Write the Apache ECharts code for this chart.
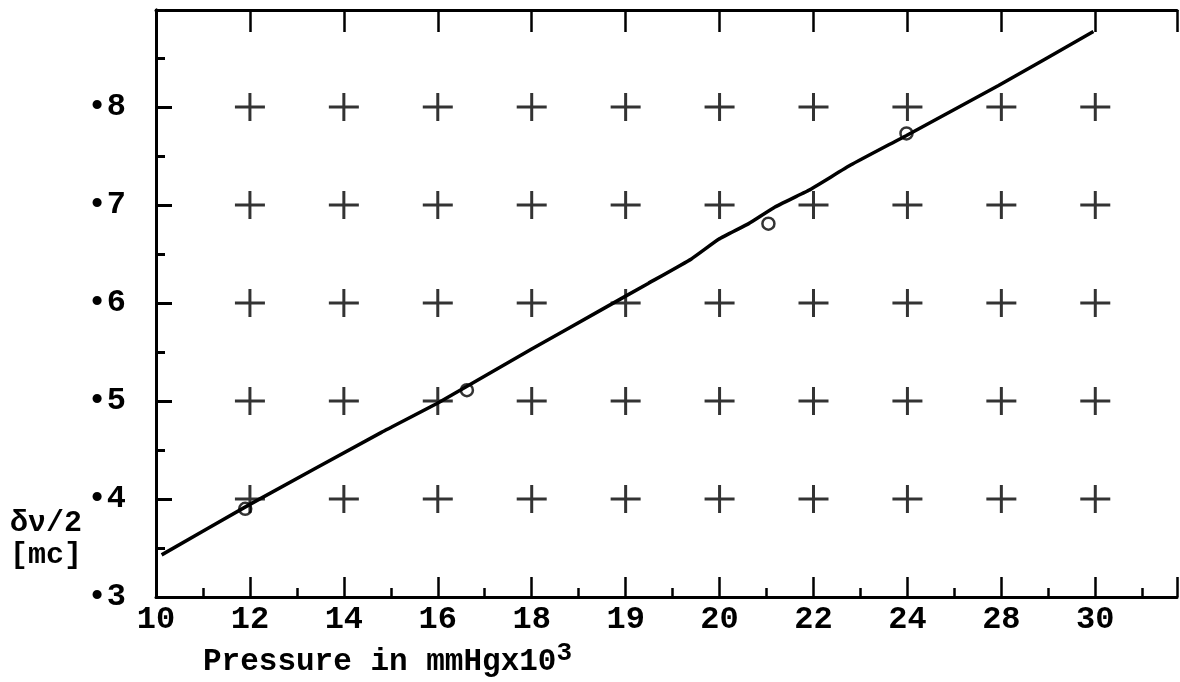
<!DOCTYPE html>
<html>
<head>
<meta charset="utf-8">
<script src="https://cdn.jsdelivr.net/npm/echarts@6/dist/echarts.min.js"></script>
<style>
html,body{margin:0;padding:0;background:#fff;}
#chart{width:1180px;height:682px;}
</style>
</head>
<body>
<div id="chart"></div>
<script>
// Category labels along x (hand-drawn, evenly spaced)
const xLabels = ['10','12','14','16','18','19','20','22','24','28','30'];
// y tick values
const yTicks = [0.3, 0.4, 0.5, 0.6, 0.7, 0.8];
// grid cross positions
const crossX = [1,2,3,4,5,6,7,8,9,10];
const crossY = [0.4,0.5,0.6,0.7,0.8];
// measured points (x as position index along the axis)
const pointX = [0.95, 3.31, 6.52, 7.99];
const pointY = [0.390, 0.511, 0.681, 0.773];
// hand-drawn curve
const curveX = [0.06, 0.99, 2.40, 3.02, 4.00, 4.74, 5.24, 5.70, 5.99, 6.31, 6.59, 6.95, 7.40, 7.99, 8.97, 9.98];
const curveY = [0.343, 0.394, 0.468, 0.499, 0.553, 0.593, 0.620, 0.645, 0.665, 0.681, 0.698, 0.715, 0.741, 0.771, 0.822, 0.877];

const FONT = '"Liberation Mono", "DejaVu Sans Mono", monospace';
const crosses = [];
crossX.forEach(x => crossY.forEach(y => crosses.push([x, y])));

const chart = echarts.init(document.getElementById('chart'));
chart.setOption({
  backgroundColor: '#fff',
  animation: false,
  grid: {left: 156, right: 2, top: 10, bottom: 85},
  xAxis: [{
    type: 'value', min: 0, max: 10.87, interval: 1,
    axisLine: {show: true, lineStyle: {color: '#000', width: 3}},
    axisTick: {show: true, inside: true, length: 20, lineStyle: {color: '#000', width: 2.5}},
    minorTick: {show: true, splitNumber: 2, length: 9, lineStyle: {color: '#000', width: 2.5}},
    splitLine: {show: false},
    axisLabel: {
      color: '#000', fontFamily: FONT, fontSize: 32, fontWeight: 'bold', margin: 7,
      formatter: v => { const i = Math.round(v); return Math.abs(v - i) < 1e-6 && xLabels[i] !== undefined ? xLabels[i] : ''; }
    }
  }, {
    type: 'value', position: 'top', min: 0, max: 10.87, interval: 1,
    axisLine: {show: true, lineStyle: {color: '#000', width: 3}},
    axisTick: {show: true, inside: true, length: 22, lineStyle: {color: '#000', width: 2.5}},
    axisLabel: {show: false},
    splitLine: {show: false}
  }],
  yAxis: [{
    type: 'value', min: 0.3, max: 0.899, interval: 0.1,
    axisLine: {show: true, lineStyle: {color: '#000', width: 3}},
    axisTick: {show: true, inside: true, length: 16, lineStyle: {color: '#000', width: 3}},
    minorTick: {show: true, splitNumber: 2, length: 9, lineStyle: {color: '#000', width: 3}},
    splitLine: {show: false},
    axisLabel: {
      color: '#000', fontFamily: FONT, fontSize: 32, fontWeight: 'bold', margin: 30,
      formatter: v => {
        const t = yTicks.find(k => Math.abs(k - v) < 1e-6);
        return t === undefined ? '' : '\u2022' + String(Math.round(t * 10));
      }
    }
  }, {
    type: 'value', position: 'right', min: 0.3, max: 0.899,
    axisLine: {show: true, lineStyle: {color: '#000', width: 3}},
    axisTick: {show: false}, axisLabel: {show: false}, splitLine: {show: false}
  }],
  graphic: [
    {type: 'text', left: 10, top: 508, style: {text: '\u03b4\u03bd/2', font: 'bold 30px ' + FONT, fill: '#000'}},
    {type: 'text', left: 10, top: 540, style: {text: '[mc]', font: 'bold 30px ' + FONT, fill: '#000'}},
    {type: 'text', left: 203, top: 640, style: {
      text: 'Pressure in mmHgx10{s|3}', font: 'bold 31px ' + FONT, fill: '#000',
      rich: {s: {fontSize: 26, fontWeight: 'bold', fontFamily: FONT, verticalAlign: 'top', padding: [0,0,18,0], fill: '#000'}}
    }}
  ],
  series: [{
    type: 'scatter', data: crosses,
    symbol: 'path://M0,12.5H30V15.5H0Z M13.5,0H16.5V28H13.5Z',
    symbolSize: [30, 28], itemStyle: {color: '#000'}, silent: true, z: 2
  }, {
    type: 'line', data: curveX.map((x, i) => [x, curveY[i]]),
    showSymbol: false, smooth: 0.12,
    lineStyle: {color: '#000', width: 3.5}, z: 3
  }, {
    type: 'scatter', data: pointX.map((x, i) => [x, pointY[i]]),
    symbol: 'circle', symbolSize: 12,
    itemStyle: {color: 'rgba(0,0,0,0)', borderColor: '#000', borderWidth: 2.5}, z: 4
  }]
});
</script>
</body>
</html>
